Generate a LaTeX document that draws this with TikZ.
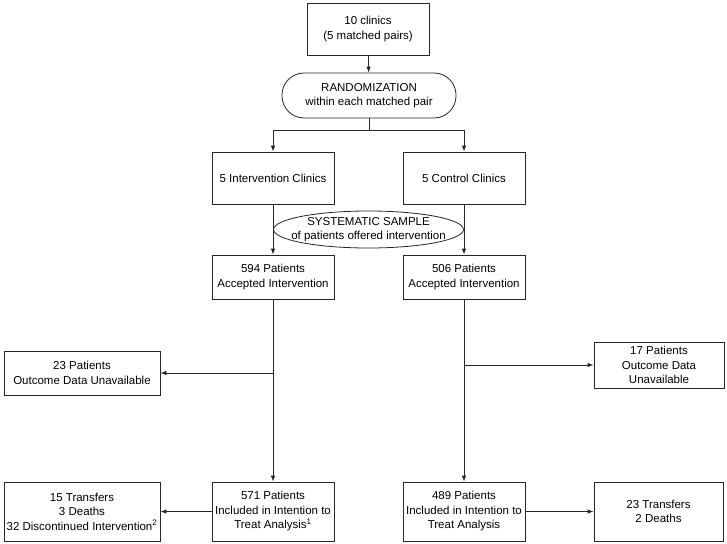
\documentclass[tikz,border=0pt]{standalone}
\usepackage{fontspec}
\setmainfont{Liberation Sans}
\usetikzlibrary{arrows.meta,shapes.geometric}
\begin{document}
\begin{tikzpicture}[x=1pt,y=-1pt,
  txt/.style={font=\fontsize{11.5}{14.5}\selectfont, align=center},
  every node/.style={txt, inner sep=1pt},
  box/.style={draw=black!85, line width=0.8pt, rectangle, fill=white},
  pill/.style={draw=black!85, line width=0.8pt, rectangle, rounded corners=22pt, fill=white},
  oval/.style={draw=black!85, line width=0.8pt, ellipse, inner sep=0pt, fill=white},
  conn/.style={draw=black!85, line width=0.8pt},
  arr/.style={conn, -{Latex[length=6pt,width=4.5pt]}}]
\useasboundingbox (0,0) rectangle (727,543);
\node[box, minimum width=122pt, minimum height=52pt] (top) at (368,29) {10 clinics\\(5 matched pairs)};
\node[pill, minimum width=174pt, minimum height=45pt] (rand) at (369,95.5) {RANDOMIZATION\\within each matched pair};
\node[box, minimum width=122pt, minimum height=52pt] (int) at (273,178) {5 Intervention Clinics};
\node[box, minimum width=122pt, minimum height=52pt] (ctrl) at (464,178) {5 Control Clinics};
\node[box, minimum width=122pt, minimum height=44pt] (p594) at (273,277) {594 Patients\\Accepted Intervention};
\node[box, minimum width=122pt, minimum height=44pt] (p506) at (464,277) {506 Patients\\Accepted Intervention};
\node[box, minimum width=156pt, minimum height=44pt] (u23) at (82,373) {23 Patients\\Outcome Data Unavailable};
\node[box, minimum width=130pt, minimum height=46pt] (u17) at (659,365) {17 Patients\\Outcome Data\\Unavailable};
\node[box, minimum width=122pt, minimum height=59pt] (p571) at (273,511.5) {571 Patients\\Included in Intention to\\Treat Analysis\textsuperscript{1}};
\node[box, minimum width=156pt, minimum height=59pt] (t15) at (82,511.5) {15 Transfers\\3 Deaths\\32 Discontinued Intervention\textsuperscript{2}};
\node[box, minimum width=122pt, minimum height=59pt] (p489) at (464,511.5) {489 Patients\\Included in Intention to\\Treat Analysis};
\node[box, minimum width=129pt, minimum height=59pt] (t23) at (658.5,511.5) {23 Transfers\\2 Deaths};
\coordinate (split) at (369,130);
\draw[arr] (top) -- (rand);
\draw[conn] (rand.south) -- (split);
\draw[arr] (split) -| (int.north);
\draw[arr] (split) -| (ctrl.north);
\draw[arr] (int) -- (p594);
\draw[arr] (ctrl) -- (p506);
\node[oval, minimum width=190pt, minimum height=37pt,
  label={[txt]center:SYSTEMATIC SAMPLE\\of patients offered intervention}] (sys) at (368.5,229.5) {};
\draw[arr] (p594) -- (p571);
\draw[arr] (p506) -- (p489);
\draw[arr] (p594.south |- u23.east) -- (u23.east);
\draw[arr] (p506.south |- u17.west) -- (u17.west);
\draw[arr] (p571) -- (t15);
\draw[arr] (p489) -- (t23);
\end{tikzpicture}
\end{document}
